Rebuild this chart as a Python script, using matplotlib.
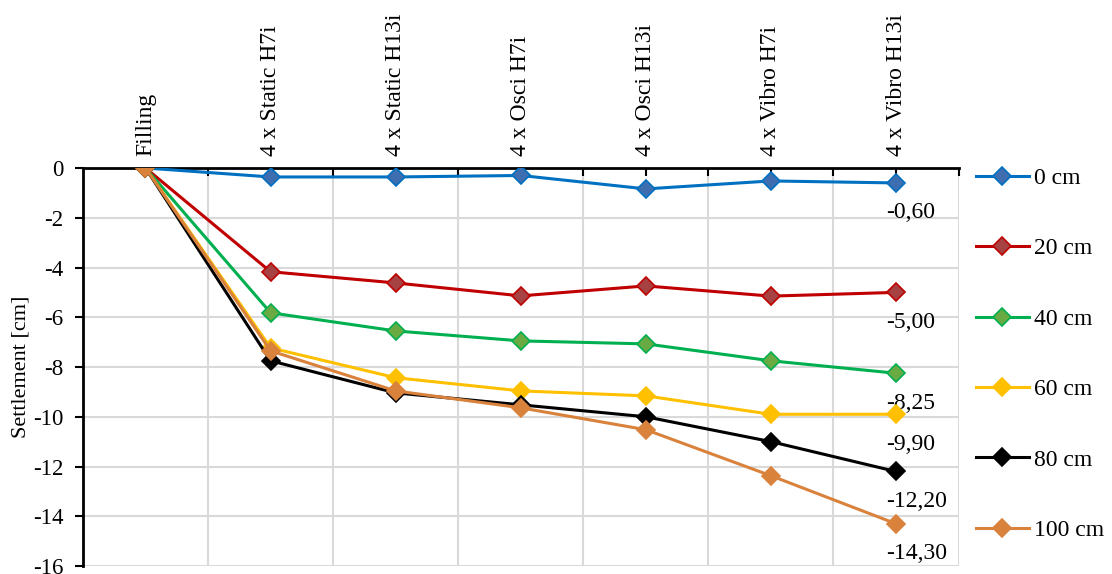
import matplotlib.pyplot as plt
from matplotlib.ticker import FixedLocator

categories = ["Filling", "4 x Static H7i", "4 x Static H13i", "4 x Osci H7i",
              "4 x Osci H13i", "4 x Vibro H7i", "4 x Vibro H13i"]

s0 = [0, -0.36, -0.36, -0.30, -0.84, -0.52, -0.60]
s20 = [0, -4.17, -4.62, -5.14, -4.74, -5.15, -5.00]
s40 = [0, -5.82, -6.55, -6.95, -7.07, -7.75, -8.25]
s60 = [0, -7.23, -8.43, -8.96, -9.16, -9.90, -9.90]
s80 = [0, -7.75, -9.04, -9.52, -10.00, -11.00, -12.20]
s100 = [0, -7.35, -8.96, -9.64, -10.52, -12.37, -14.30]

series_names = ["0 cm", "20 cm", "40 cm", "60 cm", "80 cm", "100 cm"]
series_values = [s0, s20, s40, s60, s80, s100]
line_colors = ["#0070C0", "#C00000", "#00B050", "#FFC000", "#000000", "#D9823B"]
face_colors = ["#3E6EB0", "#A64242", "#6AAA42", "#FFC000", "#000000", "#D9823B"]

plt.rcParams['font.family'] = ['Liberation Serif', 'DejaVu Serif']
plt.rcParams['axes.unicode_minus'] = False

fig = plt.figure(figsize=(11.12, 5.74), dpi=100)
ax = fig.add_axes([0.0746, 0.0139, 0.7874, 0.6934])

x = list(range(len(categories)))
for name, vals, lc, fc in zip(series_names, series_values, line_colors, face_colors):
    ax.plot(x, vals, color=lc, linewidth=2.2, marker='D', markersize=9,
            markerfacecolor=fc, markeredgecolor=lc, markeredgewidth=1.2,
            label=name, zorder=3)
    # value label under the last point
    ax.annotate(f"{vals[-1]:.2f}".replace('.', ','), (x[-1], vals[-1]),
                xytext=(-7, -14), textcoords='offset points',
                ha='left', va='top', fontsize=17)

ax.set_xlim(-0.5, len(categories) - 0.5)
ax.set_ylim(-16, 0)
ax.set_yticks(range(-16, 1, 2))
ax.tick_params(axis='y', labelsize=16.5, length=6, width=1.5, direction='out', pad=8)

# category axis sits on top, ticks between categories
ax.xaxis.tick_top()
ax.set_xticks([i + 0.5 for i in range(len(categories))])
ax.set_xticklabels([])
ax.xaxis.set_minor_locator(FixedLocator(x))
ax.set_xticklabels(categories, minor=True, rotation=90, fontsize=17)
ax.tick_params(axis='x', which='both', direction='in', length=6, width=1.5, pad=9)

ax.grid(True, axis='y', color='#D9D9D9', linewidth=1.5, zorder=0)
ax.grid(True, axis='x', which='major', color='#D9D9D9', linewidth=1.5, zorder=0)

ax.spines['bottom'].set_visible(False)
ax.spines['right'].set_visible(False)
ax.spines['top'].set_linewidth(2)
ax.spines['left'].set_linewidth(2)

ax.set_ylabel("Settlement [cm]", fontsize=16, labelpad=2)

leg = ax.legend(loc='upper left', bbox_to_anchor=(1.009, 1.025), frameon=False,
                fontsize=17, handlelength=2.25, labelspacing=2.07,
                handletextpad=0.2, borderaxespad=0.0)

fig.savefig("out.png", dpi=100)
